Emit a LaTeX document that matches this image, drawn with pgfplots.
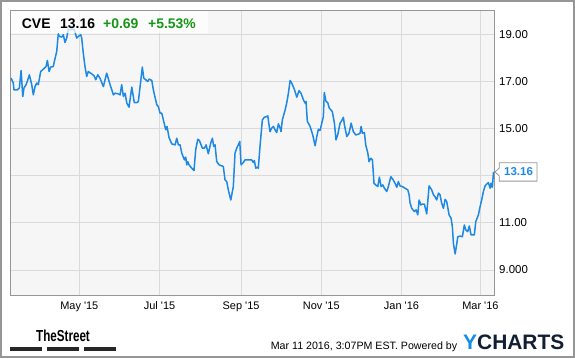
\documentclass[border=0pt]{standalone}
\usepackage{pgfplots}
\pgfplotsset{compat=1.18}
\usetikzlibrary{backgrounds}
\usepackage{fontspec}
\setmainfont{Liberation Sans}
\usepackage{graphicx}
\definecolor{cveblue}{RGB}{30,136,229}
\definecolor{cvegreen}{RGB}{22,150,22}
\definecolor{gridgray}{RGB}{218,218,218}
\definecolor{bggray}{RGB}{246,246,246}
\definecolor{framegray}{RGB}{150,150,150}
\definecolor{ynavy}{RGB}{18,30,52}
\definecolor{yblue}{RGB}{18,140,230}
\begin{document}
\begin{tikzpicture}
\begin{axis}[
  name=ax, at={(0,0)}, anchor=south west,
  scale only axis, width=483.6bp, height=284.3bp,
  xmin=-52.2, xmax=315.6, ymin=7.94, ymax=20,
  axis background/.style={fill=bggray},
  axis line style={framegray, line width=1bp},
  grid=major, major grid style={gridgray, line width=1bp},
  xtick={0,61,123,184,245,305},
  xticklabels={May \textquotesingle15,Jul \textquotesingle15,Sep \textquotesingle15,Nov \textquotesingle15,Jan \textquotesingle16,Mar \textquotesingle16},
  ytick={9,11,13,15,17,19},
  yticklabels={9.000,11.00,,15.00,17.00,19.00},
  yticklabel pos=right,
  major tick length=0pt,
  tick style={draw=none},
  xticklabel style={font=\fontsize{11}{13}\selectfont, anchor=north, inner sep=0pt, yshift=-6.7bp},
  yticklabel style={font=\fontsize{11.5}{13}\selectfont, anchor=west, inner sep=0pt, xshift=4.7bp},
  /pgf/number format/assume math mode=true,
  clip=false,
]
\addplot[cveblue, line width=1.5bp, line join=round] table {
x y
-51.9 17.14
-50.2 16.93
-49.7 16.64
-47.2 16.64
-45.6 16.72
-44.3 17.46
-43.0 16.36
-42.1 16.72
-40.5 16.86
-39.6 17.00
-38.0 17.28
-36.2 16.86
-35.0 16.43
-33.7 16.78
-32.4 16.93
-31.2 16.86
-29.4 17.42
-27.4 17.52
-25.3 17.63
-24.3 17.89
-23.0 17.42
-21.8 17.61
-19.8 17.63
-19.0 17.85
-17.2 18.27
-16.0 19.02
-15.2 18.91
-13.4 18.88
-12.2 18.98
-10.9 18.65
-9.6 18.84
-8.4 19.22
-7.1 19.19
-5.0 19.22
-3.8 19.19
-2.0 18.84
-0.8 18.91
1.1 18.98
1.8 18.84
3.0 18.20
4.3 17.63
5.6 17.21
6.8 17.42
9.4 17.32
11.2 17.24
12.5 17.07
14.0 17.28
15.7 17.14
18.3 16.78
20.8 17.35
23.4 16.86
25.9 16.43
27.2 16.50
29.7 16.47
31.0 16.43
32.2 16.86
33.5 16.36
34.8 16.50
36.1 16.08
37.8 15.91
39.9 16.76
41.8 16.10
43.7 16.10
44.9 16.15
46.2 16.78
47.9 17.61
49.0 17.14
50.5 17.07
52.0 17.00
53.0 17.10
55.1 17.04
56.3 16.64
58.9 16.01
60.1 15.93
61.4 15.65
62.7 15.65
63.9 15.37
65.7 14.95
66.7 15.09
68.2 14.62
70.3 14.35
72.8 14.31
74.1 14.59
75.3 14.31
76.6 14.31
77.9 13.96
79.9 13.67
80.9 13.79
81.7 13.46
82.4 13.60
83.4 13.46
85.5 13.32
87.2 13.22
88.5 14.10
90.1 14.55
91.3 14.49
93.6 14.17
95.1 14.17
96.4 14.31
98.1 13.93
99.9 14.38
101.2 14.59
102.2 14.24
103.2 14.31
104.5 13.60
106.3 13.46
108.3 13.42
109.5 13.39
110.8 12.82
112.1 12.75
113.3 12.40
115.2 11.97
117.1 12.54
118.4 13.96
119.7 14.17
120.9 14.31
122.0 14.45
123.0 13.46
124.7 13.56
126.0 13.67
128.5 13.67
131.1 13.67
132.3 13.56
133.1 13.64
134.2 13.32
135.4 13.36
136.1 13.32
137.4 14.24
139.2 15.37
140.7 15.48
142.5 15.51
143.3 15.54
145.0 14.87
146.3 15.02
147.6 15.09
148.8 14.95
150.1 14.83
151.4 15.20
152.7 15.02
153.4 14.87
154.4 15.37
156.5 15.79
157.7 16.08
159.0 16.50
160.3 17.04
161.5 16.93
163.5 16.67
165.4 16.33
167.1 16.61
168.6 16.50
170.4 16.22
171.7 16.08
172.4 16.15
173.4 15.30
174.2 15.23
175.5 15.09
177.5 14.73
179.3 14.27
180.6 14.66
181.8 14.97
183.1 14.92
184.4 15.23
185.6 15.51
186.3 16.53
187.6 16.15
188.9 16.10
190.1 15.87
192.4 15.72
194.0 15.23
195.2 14.52
196.5 14.73
198.3 15.23
199.6 15.34
200.8 15.48
201.6 15.16
203.4 14.66
205.1 14.80
206.7 15.23
208.4 14.87
210.2 14.73
212.2 14.76
213.5 14.80
214.3 15.09
215.3 14.80
216.8 14.83
217.8 14.31
219.4 13.96
220.3 13.60
221.6 13.74
222.9 13.67
224.1 12.68
225.4 12.61
227.0 12.54
228.2 12.94
229.5 12.54
230.8 12.61
232.0 12.47
233.8 12.33
235.0 12.54
236.9 12.96
238.4 12.85
240.1 12.68
241.4 12.51
242.6 12.75
243.9 12.57
245.7 12.54
247.7 12.47
249.8 12.40
250.8 12.19
251.5 11.85
252.8 11.62
254.8 11.48
256.1 11.55
257.4 11.34
258.4 11.97
259.7 11.76
260.9 11.80
262.4 11.80
264.2 11.38
266.0 12.57
268.0 12.40
269.3 12.19
270.5 12.11
271.8 11.97
273.1 12.26
274.3 12.19
275.6 11.83
276.9 11.62
278.2 12.00
279.4 11.90
281.2 11.34
282.7 11.20
283.7 10.84
284.5 10.13
285.8 9.68
287.1 10.13
287.8 10.41
289.6 10.44
291.3 10.41
292.8 10.91
293.9 10.70
295.4 10.63
296.6 10.87
297.9 10.49
300.4 10.49
301.5 11.05
303.5 11.34
304.8 11.69
306.1 12.00
307.3 12.33
308.6 12.57
309.9 12.65
311.1 12.71
312.4 12.47
313.1 12.68
314.1 12.51
315.0 13.16
};
\coordinate (last) at (axis cs:315.6,13.16);
\end{axis}
\path (ax.south west) ++(-10.7bp,-63bp) coordinate (O);
\begin{scope}[shift={(O)}, x=1bp, y=1bp]
\begin{pgfonlayer}{background}
\fill[white] (0,0) rectangle (575,358);
\end{pgfonlayer}
\draw[framegray, line width=2bp] (1,1) rectangle (574,357);
% header
\fill[white, opacity=0.75] (11.2,325) rectangle (208,346.8);
\node[anchor=base west, inner sep=0pt, font=\bfseries\fontsize{14}{16}\selectfont] at (21.7,329.7) {CVE};
\node[anchor=base west, inner sep=0pt, font=\bfseries\fontsize{14}{16}\selectfont] at (60,329.7) {13.16};
\node[anchor=base west, inner sep=0pt, text=cvegreen, font=\bfseries\fontsize{14}{16}\selectfont] at (103,329.7) {+0.69};
\node[anchor=base west, inner sep=0pt, text=cvegreen, font=\bfseries\fontsize{14}{16}\selectfont] at (148,329.7) {+5.53\%};
% footer
\node[anchor=base west, inner sep=0pt] at (36,16.3) {\scalebox{0.73}[1]{\bfseries\fontsize{16}{16}\selectfont TheStreet}};
\fill[black!85] (10,7.3) rectangle (42,10.7);
\fill[black!85] (47,7.3) rectangle (79,10.7);
\fill[black!85] (84,7.3) rectangle (116,10.7);
\node[anchor=base west, inner sep=0pt, font=\fontsize{10.7}{12}\selectfont] at (270.6,8.7) {Mar 11 2016, 3:07PM EST. Powered by};
\node[anchor=base west, inner sep=0pt, font=\bfseries\fontsize{21}{22}\selectfont] at (463,8.7) {\textcolor{yblue}{Y}\textcolor{ynavy}{CHARTS}};
\end{scope}
% last-price callout
\begin{scope}[x=1bp, y=1bp]
\draw[fill=white, draw=framegray, line width=0.8bp] ([xshift=0.7bp]last) -- ++(4.3,4) -- ++(0,5.2) -- ++(37.7,0) -- ++(0,-18.4) -- ++(-37.7,0) -- ++(0,5.2) -- cycle;
\node[anchor=west, inner sep=0pt, text=cveblue, font=\bfseries\fontsize{11.5}{13}\selectfont] at ([xshift=9.7bp]last) {13.16};
\end{scope}
\end{tikzpicture}
\end{document}
